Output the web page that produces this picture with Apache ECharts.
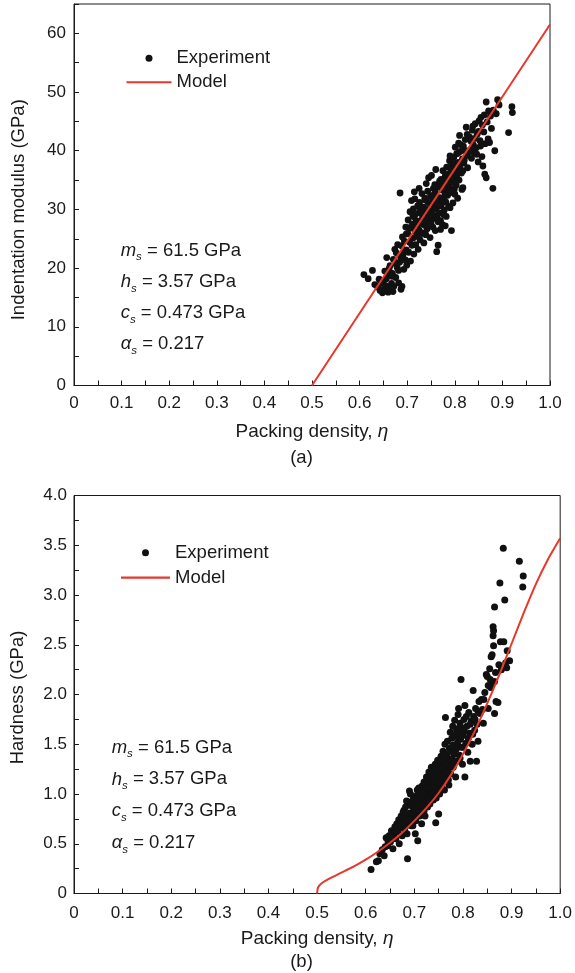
<!DOCTYPE html>
<html>
<head>
<meta charset="utf-8">
<title>Packing density charts</title>
<script src="https://cdn.jsdelivr.net/npm/echarts@6/dist/echarts.min.js"></script>
<style>
  html, body { margin: 0; padding: 0; background: #fff; }
  #chart { width: 575px; height: 973px; }
</style>
</head>
<body>
<div id="chart"></div>
<script>
// (a) indentation modulus vs packing density
const expModulus = [
  [0.609,18.9],[0.618,18.2],[0.627,19.6],[0.632,17.2],[0.638,16.8],[0.641,18.1],[0.645,17.6],[0.648,15.8],
  [0.651,16.3],[0.653,19.5],[0.655,17.0],[0.657,21.8],[0.659,16.0],[0.661,18.8],[0.663,16.6],[0.664,20.4],
  [0.667,17.4],[0.669,19.1],[0.671,21.5],[0.672,16.9],[0.674,23.2],[0.676,18.4],[0.677,22.6],[0.679,20.1],
  [0.680,24.0],[0.682,17.5],[0.684,21.0],[0.685,32.8],[0.687,16.4],[0.688,23.8],[0.689,16.9],[0.690,25.3],
  [0.691,22.2],[0.693,19.8],[0.694,24.6],[0.696,21.4],[0.697,27.0],[0.698,23.1],[0.699,20.5],[0.701,25.9],
  [0.702,28.2],[0.703,22.7],[0.705,24.4],[0.706,29.6],[0.707,21.2],[0.708,26.8],[0.709,31.5],[0.710,23.9],
  [0.711,27.5],[0.712,25.1],[0.713,30.1],[0.714,22.4],[0.715,28.7],[0.716,31.8],[0.717,26.2],[0.718,24.0],
  [0.719,29.3],[0.720,27.1],[0.721,25.4],[0.722,30.6],[0.723,23.2],[0.724,28.0],[0.725,26.5],[0.726,31.2],
  [0.727,24.8],[0.728,29.8],[0.729,27.6],[0.730,25.9],[0.731,32.7],[0.732,28.5],[0.733,26.0],[0.734,30.4],
  [0.735,24.3],[0.736,29.1],[0.737,27.3],[0.738,31.6],[0.739,25.7],[0.740,28.9],[0.741,30.0],[0.742,26.7],
  [0.743,33.1],[0.744,29.5],[0.745,35.4],[0.746,27.9],[0.747,31.0],[0.748,25.2],[0.749,32.2],[0.750,29.7],
  [0.751,35.8],[0.752,28.3],[0.753,30.8],[0.754,27.0],[0.755,33.6],[0.756,31.4],[0.757,29.0],[0.758,34.2],
  [0.759,26.4],[0.760,32.5],[0.761,30.2],[0.762,22.8],[0.763,28.6],[0.764,33.9],[0.765,23.9],[0.766,31.7],
  [0.767,29.4],[0.768,34.8],[0.769,32.0],[0.770,28.1],[0.771,35.1],[0.772,30.9],[0.773,33.3],[0.774,27.4],
  [0.775,36.6],[0.776,31.9],[0.777,34.4],[0.778,29.9],[0.779,33.0],[0.780,35.7],[0.781,31.3],[0.782,28.8],
  [0.783,37.2],[0.784,34.0],[0.785,32.4],[0.786,36.0],[0.787,30.5],[0.788,33.8],[0.789,38.3],[0.790,39.1],
  [0.791,35.3],[0.792,32.9],[0.793,26.4],[0.794,37.8],[0.795,34.6],[0.796,31.1],[0.797,36.4],[0.798,38.9],
  [0.799,33.5],[0.800,35.9],[0.801,40.6],[0.802,37.0],[0.803,34.1],[0.804,39.5],[0.805,36.8],[0.806,31.9],
  [0.807,38.0],[0.808,41.3],[0.809,35.0],[0.810,42.6],[0.811,37.6],[0.812,39.9],[0.814,36.2],[0.815,33.4],
  [0.817,36.6],[0.817,33.7],[0.818,40.8],[0.820,38.4],[0.822,41.9],[0.824,44.0],[0.825,39.2],[0.827,37.1],
  [0.829,42.3],[0.831,42.3],[0.833,40.2],[0.835,38.7],[0.837,43.5],[0.839,41.0],[0.841,39.6],[0.843,44.6],
  [0.845,40.5],[0.847,42.8],[0.849,38.1],[0.851,45.1],[0.853,41.7],[0.855,45.7],[0.857,39.0],[0.859,37.4],
  [0.861,43.2],[0.863,36.0],[0.864,41.2],[0.866,35.4],[0.866,48.3],[0.868,44.9],[0.870,42.0],[0.871,46.8],
  [0.873,41.4],[0.875,45.9],[0.877,43.8],[0.880,33.6],[0.881,46.9],[0.884,40.0],[0.887,46.3],[0.890,48.7],
  [0.893,47.8],[0.913,43.1],[0.920,47.5],[0.921,46.5],
  [0.705,26.9],[0.712,28.9],[0.718,27.8],[0.722,26.6],[0.727,30.2],[0.731,29.2],[0.734,27.7],[0.737,31.9],
  [0.741,28.4],[0.744,31.2],[0.747,29.3],[0.750,27.6],[0.753,32.4],[0.756,30.1],[0.759,33.0],[0.762,31.0],
  [0.765,27.9],[0.768,30.6],[0.771,33.8],[0.774,31.5],[0.777,29.1],[0.780,32.6],[0.783,34.9],[0.786,33.1],
  [0.789,35.9],[0.792,36.9],[0.795,33.0],[0.798,35.2],[0.801,37.9],[0.804,35.8],[0.807,39.6],[0.810,37.2],
  [0.813,41.0],[0.816,38.6],[0.819,37.9],[0.823,40.0],[0.826,42.8],[0.830,39.8],[0.834,41.6],[0.838,44.2],
  [0.842,42.1],[0.846,39.4],[0.850,43.3],[0.854,40.8],[0.858,44.4],[0.862,46.1],[0.694,22.9],[0.698,25.8],
  [0.686,21.9],[0.682,19.6],[0.675,20.8],[0.668,18.6],[0.662,19.9],[0.656,18.2],[0.650,17.3],[0.643,16.2],
  [0.660,15.9],[0.670,16.0],[0.715,33.0],[0.725,33.6],[0.740,34.4],[0.760,36.8],[0.790,30.3],[0.800,32.6],
  [0.770,26.6],[0.780,27.2]
];
const modelModulus = [[0.5,0],[0.6,12.3],[0.7,24.6],[0.8,36.9],[0.9,49.2],[1.0,61.5]];

// (b) hardness vs packing density
const expHardness = [
  [0.611,0.24],[0.622,0.32],[0.626,0.33],[0.629,0.40],[0.634,0.44],[0.638,0.38],[0.642,0.56],[0.645,0.48],
  [0.648,0.58],[0.651,0.52],[0.653,0.63],[0.656,0.45],[0.658,0.60],[0.660,0.67],[0.662,0.55],[0.664,0.70],
  [0.666,0.62],[0.668,0.74],[0.669,0.50],[0.671,0.66],[0.673,0.78],[0.675,0.58],[0.677,0.72],[0.679,0.84],
  [0.680,0.64],[0.682,0.87],[0.683,0.76],[0.685,0.60],[0.686,0.35],[0.687,0.92],[0.689,0.70],[0.690,1.03],
  [0.691,0.81],[0.692,1.00],[0.694,0.68],[0.695,0.88],[0.697,0.76],[0.698,0.95],[0.699,0.84],[0.701,0.90],
  [0.702,0.60],[0.703,0.73],[0.704,0.98],[0.705,0.86],[0.706,1.04],[0.707,0.53],[0.708,0.79],[0.709,0.94],
  [0.710,0.88],[0.712,1.01],[0.713,0.82],[0.714,0.97],[0.715,0.70],[0.716,1.08],[0.718,0.92],[0.719,0.86],
  [0.720,1.12],[0.721,0.99],[0.722,0.78],[0.723,1.05],[0.724,0.93],[0.725,1.17],[0.726,1.00],[0.727,0.87],
  [0.728,1.10],[0.729,0.96],[0.730,1.22],[0.731,1.03],[0.732,0.90],[0.733,1.14],[0.734,1.07],[0.735,1.27],
  [0.736,0.98],[0.737,1.19],[0.738,1.09],[0.739,0.94],[0.740,1.24],[0.741,1.13],[0.742,1.02],[0.743,1.30],
  [0.744,0.71],[0.745,1.16],[0.746,1.06],[0.747,1.25],[0.748,1.34],[0.749,1.11],[0.750,0.80],[0.751,1.21],
  [0.752,1.00],[0.753,1.29],[0.754,1.15],[0.755,1.38],[0.756,1.08],[0.757,1.26],[0.758,1.20],[0.759,1.43],
  [0.760,1.12],[0.761,1.33],[0.762,1.04],[0.763,1.50],[0.764,1.77],[0.765,1.28],[0.766,1.18],[0.767,1.40],
  [0.768,1.53],[0.769,1.23],[0.770,1.36],[0.771,1.09],[0.772,1.46],[0.773,1.31],[0.774,1.62],[0.775,1.20],
  [0.776,1.44],[0.777,1.56],[0.778,1.35],[0.779,1.68],[0.780,1.27],[0.781,1.49],[0.782,1.40],[0.783,1.74],
  [0.784,1.58],[0.785,1.17],[0.786,1.45],[0.787,1.64],[0.788,1.33],[0.789,1.52],[0.790,1.80],[0.791,1.86],
  [0.792,1.60],[0.793,1.39],[0.794,1.71],[0.795,1.55],[0.796,2.15],[0.797,1.47],[0.798,1.66],[0.799,1.30],
  [0.800,1.59],[0.802,1.75],[0.804,1.89],[0.804,1.17],[0.806,1.51],[0.808,1.68],[0.810,1.42],[0.812,1.82],
  [0.814,1.61],[0.815,1.33],[0.817,1.73],[0.819,1.50],[0.821,2.04],[0.822,1.78],[0.824,1.64],[0.826,1.86],
  [0.828,1.33],[0.829,1.70],[0.831,1.53],[0.831,1.83],[0.833,1.93],[0.835,1.81],[0.838,1.95],[0.840,1.85],
  [0.842,1.71],[0.845,2.02],[0.848,2.20],[0.850,2.18],[0.852,2.09],[0.855,2.26],[0.857,2.07],[0.858,2.38],
  [0.860,2.12],[0.862,2.59],[0.862,2.68],[0.863,2.64],[0.863,2.49],[0.865,2.13],[0.865,2.88],[0.865,1.81],
  [0.867,2.22],[0.868,1.93],[0.872,1.92],[0.874,2.30],[0.876,3.12],[0.877,2.53],[0.879,2.25],[0.883,3.47],
  [0.884,2.53],[0.886,2.95],[0.888,2.32],[0.890,2.27],[0.891,2.44],[0.896,2.34],[0.916,3.34],[0.923,3.08],
  [0.924,3.19],
  [0.705,0.95],[0.711,0.78],[0.717,1.03],[0.720,0.83],[0.727,1.06],[0.730,0.93],[0.734,1.20],[0.738,1.01],
  [0.742,1.17],[0.745,0.96],[0.748,1.22],[0.752,1.10],[0.755,1.25],[0.758,1.05],[0.761,1.39],[0.764,1.22],
  [0.767,1.31],[0.770,1.14],[0.773,1.43],[0.776,1.28],[0.779,1.49],[0.782,1.31],[0.785,1.59],[0.788,1.47],
  [0.791,1.66],[0.794,1.36],[0.797,1.58],[0.800,1.47],[0.803,1.63],[0.807,1.78],[0.811,1.56],[0.815,1.70],
  [0.820,1.60],[0.825,1.75],[0.677,0.82],[0.683,0.68],[0.688,0.80],[0.693,0.90],[0.697,0.68],[0.672,0.70],
  [0.665,0.66],[0.659,0.56],[0.652,0.57],[0.646,0.52],[0.640,0.47],[0.684,0.93],[0.692,0.74],[0.700,0.80],
  [0.709,1.06],[0.716,0.89],[0.843,1.95],[0.852,1.86],[0.856,2.15],[0.860,2.40]
];
const modelHardness = [
  [0.5,0],[0.502,0.06],[0.51,0.105],[0.525,0.15],[0.55,0.21],[0.575,0.27],[0.6,0.34],[0.625,0.42],
  [0.65,0.51],[0.675,0.61],[0.7,0.73],[0.725,0.86],[0.75,1.01],[0.775,1.19],[0.8,1.40],[0.825,1.64],
  [0.85,1.91],[0.875,2.20],[0.9,2.51],[0.925,2.82],[0.95,3.11],[0.975,3.36],[1.0,3.57]
];

const paramLines = [
  '{i|m}{s|s}{t| = 61.5 GPa}',
  '{i|h}{s|s}{t| = 3.57 GPa}',
  '{i|c}{s|s}{t| = 0.473 GPa}',
  '{i|α}{s|s}{t| = 0.217}'
];

const FONT = 'Liberation Sans, Arial, sans-serif';
const INK = '#1a1a1a';
const RED = '#e8372b';

const chart = echarts.init(document.getElementById('chart'));

// 0, 0.1, ... 1.0 — ticks every 0.05, label every 0.1
const xLabel = (v) => {
  const r = Math.round(v * 20);
  if (r % 2) return '';
  return r === 0 ? '0' : (r / 20).toFixed(1);
};

const xAxisBase = (gridIndex, nameGap, margin) => ({
  gridIndex,
  type: 'value',
  min: 0,
  max: 1,
  interval: 0.05,
  name: 'Packing density, {i|η}',
  nameLocation: 'middle',
  nameGap,
  nameTextStyle: {
    color: INK, fontSize: 19, fontFamily: FONT,
    rich: { i: { fontStyle: 'italic', fontSize: 19, fontFamily: FONT, color: INK } }
  },
  axisLine: { show: true, lineStyle: { color: INK, width: 1 } },
  axisTick: { show: true, inside: true, length: 5, lineStyle: { color: INK } },
  splitLine: { show: false },
  axisLabel: { color: INK, fontSize: 17, fontFamily: FONT, margin, formatter: xLabel }
});

// padding on the right side of the rotated name pushes it down the axis
const yAxisBase = (gridIndex, name, nameGap, shiftDown) => ({
  gridIndex,
  type: 'value',
  name,
  nameLocation: 'middle',
  nameGap,
  nameTextStyle: { color: INK, fontSize: 18.5, fontFamily: FONT, padding: [0, shiftDown * 2, 0, 0] },
  axisLine: { show: true, lineStyle: { color: INK, width: 1 } },
  axisTick: { show: true, inside: true, length: 5, lineStyle: { color: INK } },
  splitLine: { show: false }
});

const legendBase = (left, top, iconW, gap) => ({
  data: [
    { name: 'Experiment', icon: 'circle' },
    { name: 'Model', icon: 'path://M0,0H45V2H0Z' }
  ],
  orient: 'vertical',
  left,
  top,
  itemWidth: iconW,
  itemHeight: 7,
  itemGap: gap,
  selectedMode: false,
  textStyle: { color: INK, fontSize: 18.5, fontFamily: FONT, lineHeight: 19 }
});

const paramText = (x, y0, step) => paramLines.map((txt, k) => ({
  type: 'text',
  x,
  y: y0 + k * step,
  style: {
    text: txt,
    verticalAlign: 'middle',
    fill: INK,
    rich: {
      i: { fontSize: 18.5, fontStyle: 'italic', fontFamily: FONT, lineHeight: 25, fill: INK },
      s: { fontSize: 11.5, fontStyle: 'italic', fontFamily: FONT, lineHeight: 12, verticalAlign: 'bottom', fill: INK },
      t: { fontSize: 18.5, fontFamily: FONT, lineHeight: 25, fill: INK }
    }
  }
}));

const option = {
  animation: false,
  backgroundColor: '#fff',
  grid: [
    { left: 74, right: 25, top: 4, height: 381.5, show: true, borderColor: INK, borderWidth: 1, backgroundColor: 'transparent' },
    { left: 67, right: 14, top: 495.5, height: 398, show: true, borderColor: INK, borderWidth: 1, backgroundColor: 'transparent' }
  ],
  xAxis: [xAxisBase(0, 36.5, 9), xAxisBase(1, 35.5, 11)],
  yAxis: [
    Object.assign(yAxisBase(0, 'Indentation modulus (GPa)', 45.5, 15), {
      min: 0, max: 65, interval: 5,
      axisLabel: {
        color: INK, fontSize: 17, fontFamily: FONT, margin: 8,
        formatter: (v) => (v % 10 === 0 ? String(v) : '')
      }
    }),
    Object.assign(yAxisBase(1, 'Hardness (GPa)', 47, 3), {
      min: 0, max: 4, interval: 0.25,
      axisLabel: {
        color: INK, fontSize: 17, fontFamily: FONT, margin: 7,
        formatter: (v) => {
          const r = Math.round(v * 4);
          if (r % 2) return '';
          return r === 0 ? '0' : (r / 4).toFixed(1);
        }
      }
    })
  ],
  legend: [legendBase(121.5, 43.8, 45, 5), legendBase(116, 538.2, 49, 6)],
  series: [
    {
      name: 'Experiment', type: 'scatter', xAxisIndex: 0, yAxisIndex: 0,
      data: expModulus, symbolSize: 6.8, itemStyle: { color: '#111', opacity: 1 }, z: 2
    },
    {
      name: 'Model', type: 'line', xAxisIndex: 0, yAxisIndex: 0,
      data: modelModulus, symbol: 'none', lineStyle: { color: RED, width: 2 }, itemStyle: { color: RED }, z: 3
    },
    {
      name: 'Experiment', type: 'scatter', xAxisIndex: 1, yAxisIndex: 1,
      data: expHardness, symbolSize: 7, itemStyle: { color: '#111', opacity: 1 }, z: 2
    },
    {
      name: 'Model', type: 'line', xAxisIndex: 1, yAxisIndex: 1,
      data: modelHardness, symbol: 'none', smooth: 0.2,
      lineStyle: { color: RED, width: 2 }, itemStyle: { color: RED }, z: 3
    }
  ],
  graphic: [
    ...paramText(120.7, 250.7, 31.1),
    ...paramText(111.7, 747.7, 31.7),
    { type: 'text', x: 301.5, y: 458.3, style: { text: '(a)', fill: INK, fontSize: 18.5, fontFamily: FONT, align: 'center', verticalAlign: 'middle' } },
    { type: 'text', x: 301.5, y: 961.7, style: { text: '(b)', fill: INK, fontSize: 18.5, fontFamily: FONT, align: 'center', verticalAlign: 'middle' } }
  ]
};

chart.setOption(option);
</script>
</body>
</html>
